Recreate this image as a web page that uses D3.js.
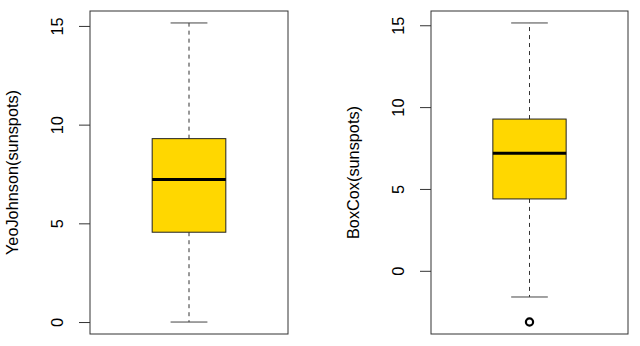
<!DOCTYPE html>
<html>
<head>
<meta charset="utf-8">
<script src="https://cdn.jsdelivr.net/npm/d3@7"></script>
<style>
  body { margin: 0; background: #fff; }
  text { font-family: "Liberation Sans", Arial, sans-serif; fill: #000; }
</style>
</head>
<body>
<div id="chart"></div>
<script>
// box stats: [lower whisker, q1, median, q3, upper whisker]
const labels = ["YeoJohnson(sunspots)", "BoxCox(sunspots)"];
const yeoStats = [0, 4.55, 7.22, 9.29, 15.15];
const boxcoxStats = [-1.6, 4.39, 7.18, 9.27, 15.14];
const yeoOutliers = [];
const boxcoxOutliers = [-3.13];
const tickValues = [0, 5, 10, 15];

const W = 640, H = 346;
const svg = d3.select("#chart").append("svg")
    .attr("width", W).attr("height", H);

// panel frames (left, right of plot region)
const panels = [
  {x0: 90, x1: 288, stats: yeoStats, out: yeoOutliers, label: labels[0]},
  {x0: 431, x1: 628, stats: boxcoxStats, out: boxcoxOutliers, label: labels[1]}
];
const plotTop = 11, plotBottom = 334;
const fontSize = "16.3px";

panels.forEach(p => {
  const all = p.stats.concat(p.out);
  const lo = d3.min(all), hi = d3.max(all);
  const pad = (hi - lo) * 0.04;
  const y = d3.scaleLinear().domain([lo - pad, hi + pad]).range([plotBottom, plotTop]);
  const x = d3.scaleLinear().domain([0.5, 1.5]).range([p.x0, p.x1]);
  const g = svg.append("g");

  // axis sits on the frame, ticks point outwards
  const ax = g.append("g")
      .attr("transform", `translate(${p.x0},0)`)
      .call(d3.axisLeft(y).tickValues(tickValues).tickSize(11).tickFormat(d3.format("d")));
  ax.select(".domain").remove();
  ax.selectAll(".tick line").attr("stroke", "#333");
  ax.selectAll(".tick text")
      .attr("x", 0).attr("dy", 0)
      .attr("transform", "translate(-27,0) rotate(-90)")
      .attr("text-anchor", "middle")
      .style("font-size", fontSize)
      .style("font-family", "Liberation Sans, Arial, sans-serif");

  // axis title
  g.append("text")
      .attr("transform", `translate(${p.x0 - 72},${(plotTop + plotBottom) / 2}) rotate(-90)`)
      .attr("text-anchor", "middle")
      .style("font-size", fontSize)
      .text(p.label);

  const [wl, q1, med, q3, wh] = p.stats;
  const cx = x(1);
  const bw = x(1.186) - x(0.814);
  const cw = bw / 2;

  // whiskers
  g.append("line").attr("x1", cx).attr("x2", cx).attr("y1", y(q3)).attr("y2", y(wh))
      .attr("stroke", "#333").attr("stroke-dasharray", "4,4");
  g.append("line").attr("x1", cx).attr("x2", cx).attr("y1", y(q1)).attr("y2", y(wl))
      .attr("stroke", "#333").attr("stroke-dasharray", "4,4");
  [wl, wh].forEach(v => {
    g.append("line").attr("x1", cx - cw / 2).attr("x2", cx + cw / 2)
        .attr("y1", y(v)).attr("y2", y(v)).attr("stroke", "#444");
  });

  // box
  g.append("rect")
      .attr("x", cx - bw / 2).attr("width", bw)
      .attr("y", y(q3)).attr("height", y(q1) - y(q3))
      .attr("fill", "#FFD700").attr("stroke", "#222");
  g.append("line").attr("x1", cx - bw / 2).attr("x2", cx + bw / 2)
      .attr("y1", y(med)).attr("y2", y(med))
      .attr("stroke", "#000").attr("stroke-width", 3);

  // outliers
  g.selectAll("circle.out").data(p.out).enter().append("circle")
      .attr("cx", cx).attr("cy", d => y(d)).attr("r", 3.6)
      .attr("fill", "none").attr("stroke", "#000").attr("stroke-width", 2.2);

  // frame
  g.append("rect").attr("x", p.x0).attr("y", plotTop)
      .attr("width", p.x1 - p.x0).attr("height", plotBottom - plotTop)
      .attr("fill", "none").attr("stroke", "#333");
});
</script>
</body>
</html>
